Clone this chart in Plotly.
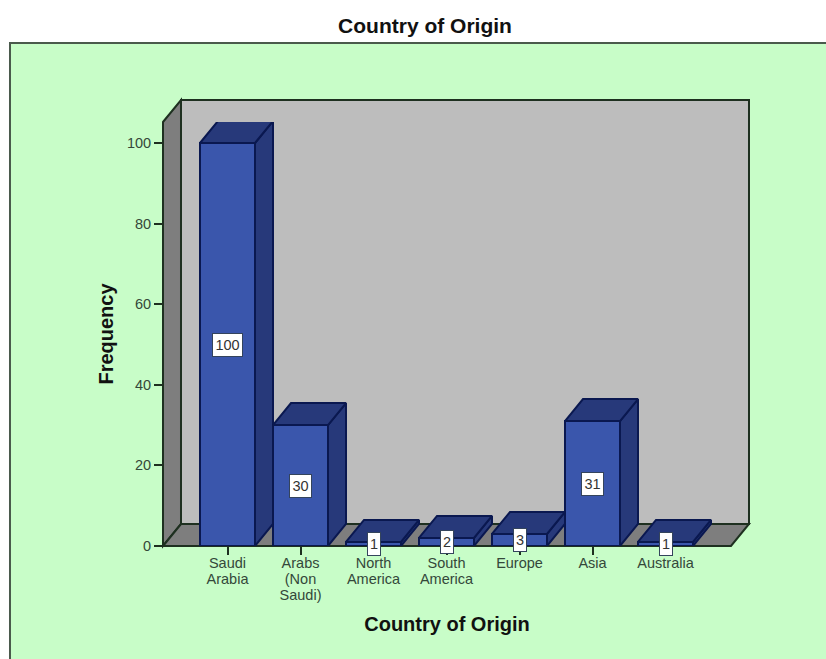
import plotly.graph_objects as go

categories = ["Saudi<br>Arabia", "Arabs<br>(Non<br>Saudi)", "North<br>America", "South<br>America", "Europe", "Asia", "Australia"]
frequencies = [100, 30, 1, 2, 3, 31, 1]
y_ticks = [0, 20, 40, 60, 80, 100]
chart_title = "Country of Origin"
x_title = "Country of Origin"
y_title = "Frequency"

W, H = 826, 659
L, R, T, B = 163, 731, 122, 546
PX_PER_CAT = 73.0
PX_PER_UNIT = 4.03
BAR_PX = 55.0
DEPTH_X, DEPTH_Y = 18.0, 22.0

FRONT = "#3a56ac"
DARK = "#27397a"
EDGE = "#0a1850"
WALL_EDGE = "#1e3020"
TXT = "#34483a"

xr = [(L - 227.5) / PX_PER_CAT, (R - 227.5) / PX_PER_CAT]
yr = [0, (B - T) / PX_PER_UNIT]
dx = DEPTH_X / PX_PER_CAT
dy = DEPTH_Y / PX_PER_UNIT
hw = BAR_PX / PX_PER_CAT / 2


def px(x):
    return (x - L) / (R - L)


def py(y):
    return (B - y) / (B - T)


def poly(points, fill, line=WALL_EDGE, width=2):
    path = "M " + " L ".join(f"{px(a):.5f} {py(b):.5f}" for a, b in points) + " Z"
    return dict(type="path", xref="paper", yref="paper", path=path, fillcolor=fill,
                line=dict(color=line, width=width), layer="below")


def big(label):
    # the base tick font sets the line spacing; the span sets the glyph size
    return "<br>".join(f'<span style="font-size:14.5px">{part}</span>' for part in label.split("<br>"))


shapes = [
    poly([(10, 43), (840, 43), (840, 680), (10, 680)], "#c8fdc8", "#4a5a4c", 2),
    poly([(L + DEPTH_X, T - DEPTH_Y), (R + DEPTH_X, T - DEPTH_Y), (R + DEPTH_X, B - DEPTH_Y), (L + DEPTH_X, B - DEPTH_Y)], "#bdbdbd"),
    poly([(L, T), (L + DEPTH_X, T - DEPTH_Y), (L + DEPTH_X, B - DEPTH_Y), (L, B)], "#7e7e7e"),
    poly([(L, B), (L + DEPTH_X, B - DEPTH_Y), (R + DEPTH_X, B - DEPTH_Y), (R, B)], "#7e7e7e"),
]

fig = go.Figure()
xs = list(range(len(categories)))
fig.add_bar(x=xs, y=frequencies, width=2 * hw, marker=dict(color=FRONT, line=dict(color=EDGE, width=2)),
            hoverinfo="skip", showlegend=False)

for x, v in zip(xs, frequencies):
    top_x = [x - hw, x + hw, x + hw + dx, x - hw + dx, x - hw]
    top_y = [v, v, v + dy, v + dy, v]
    side_x = [x + hw, x + hw + dx, x + hw + dx, x + hw, x + hw]
    side_y = [0, dy, v + dy, v, 0]
    for sx, sy in ((side_x, side_y), (top_x, top_y)):
        fig.add_scatter(x=sx, y=sy, mode="lines", fill="toself", fillcolor=DARK,
                        line=dict(color=EDGE, width=2), cliponaxis=False,
                        hoverinfo="skip", showlegend=False)

annotations = [
    dict(x=x, y=v / 2, xref="x", yref="y", text=str(v), showarrow=False,
         font=dict(family="Liberation Sans", size=14.5, color="#333333"),
         bgcolor="white", bordercolor="#34445c", borderwidth=1, borderpad=1,
         width=3 + 8 * len(str(v)) if len(str(v)) > 1 else 10, height=20)
    for x, v in zip(xs, frequencies)
]

fig.update_layout(
    width=W, height=H, autosize=False,
    margin=dict(l=L, r=W - R, t=T, b=H - B, pad=0),
    paper_bgcolor="white", plot_bgcolor="rgba(0,0,0,0)",
    shapes=shapes, annotations=annotations, bargap=0,
    title=dict(text=chart_title, x=425 / W, xanchor="center", y=1 - 26 / H, yanchor="middle",
               font=dict(family="Liberation Sans", size=21, color="#111111", weight="bold")),
    xaxis=dict(range=xr, tickvals=xs, ticktext=[big(c) for c in categories], ticks="outside", ticklen=8, tickwidth=1.5,
               tickcolor=WALL_EDGE, showgrid=False, zeroline=False, showline=False, ticklabelstandoff=-1,
               tickfont=dict(family="Liberation Sans", size=12, color=TXT), tickangle=0,
               title=dict(text=x_title, standoff=15, font=dict(family="Liberation Sans", size=20, color="#111111", weight="bold"))),
    yaxis=dict(range=yr, tickvals=y_ticks, ticks="outside", ticklen=8, tickwidth=1.5,
               tickcolor=WALL_EDGE, showgrid=False, zeroline=False, showline=False,
               tickfont=dict(family="Liberation Sans", size=14.5, color=TXT),
               title=dict(text=y_title, standoff=7, font=dict(family="Liberation Sans", size=20, color="#111111", weight="bold"))),
)

fig.write_html("out.html", config=dict(displayModeBar=False), post_script="document.body.style.margin='0';")
